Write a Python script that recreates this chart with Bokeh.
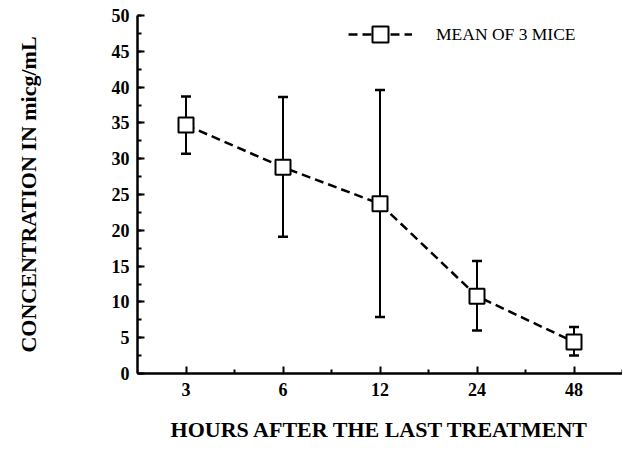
from bokeh.plotting import figure
from bokeh.models import (ColumnDataSource, Range1d, FixedTicker, Whisker, TeeHead,
                          Legend, LegendItem)
from bokeh.embed import file_html
from bokeh.resources import INLINE

# ---- data ----
hours = ["3", "6", "12", "24", "48"]
mean_conc = [34.7, 28.8, 23.7, 10.8, 4.4]
upper_conc = [38.7, 38.6, 39.6, 15.7, 6.5]
lower_conc = [30.7, 19.1, 7.9, 6.0, 2.5]
y_ticks = [0, 5, 10, 15, 20, 25, 30, 35, 40, 45, 50]
y_minor = [2.5 * i for i in range(21)]

xpos = list(range(len(hours)))
x_minor = [i + 0.5 for i in xpos]

src = ColumnDataSource(dict(x=xpos, y=mean_conc, upper=upper_conc, lower=lower_conc))

SERIF = "Liberation Serif"

p = figure(width=622, height=444,
           x_range=Range1d(-0.5, len(hours) - 0.5), y_range=Range1d(0, 50),
           output_backend="svg", toolbar_location=None,
           min_border_left=137, min_border_right=0, min_border_top=15, min_border_bottom=71)

p.grid.visible = False
p.outline_line_color = None
p.background_fill_color = "white"
p.border_fill_color = "white"

whisker = Whisker(source=src, base="x", upper="upper", lower="lower", dimension="height",
                  line_width=2, line_color="black",
                  upper_head=TeeHead(size=10, line_width=2.5, line_color="black"),
                  lower_head=TeeHead(size=10, line_width=2.5, line_color="black"),
                  level="underlay")
p.add_layout(whisker)

line_r = p.line("x", "y", source=src, line_dash="9 5", line_width=2.5, line_color="black")
sq_r = p.scatter("x", "y", source=src, marker="square", size=15,
                 fill_color="white", line_color="black", line_width=2)

legend = Legend(items=[LegendItem(label="MEAN OF 3 MICE", renderers=[line_r, sq_r])],
                location=(211, 319), glyph_width=64, glyph_height=40, label_height=40,
                label_standoff=24, padding=0, margin=0,
                border_line_alpha=0, background_fill_alpha=0,
                label_text_font=SERIF, label_text_font_size="17.5px",
                label_text_color="black")
p.add_layout(legend)

# axes
for ax in (p.xaxis[0], p.yaxis[0]):
    ax.axis_line_width = 2.5
    ax.axis_line_color = "black"
    ax.major_tick_line_width = 2
    ax.minor_tick_line_width = 2
    ax.major_tick_line_color = "black"
    ax.minor_tick_line_color = "black"
    ax.major_tick_in = 7
    ax.major_tick_out = 0
    ax.minor_tick_in = 4
    ax.minor_tick_out = 0
    ax.major_label_text_font = SERIF
    ax.major_label_text_font_style = "bold"
    ax.major_label_text_font_size = "18px"
    ax.major_label_text_color = "black"
    ax.axis_label_text_font = SERIF
    ax.axis_label_text_font_style = "bold"
    ax.axis_label_text_font_size = "22px"
    ax.axis_label_text_color = "black"

p.xaxis.ticker = FixedTicker(ticks=xpos, minor_ticks=x_minor)
p.xaxis.major_label_overrides = dict(zip(xpos, hours))
p.xaxis.major_label_standoff = 9
p.xaxis.axis_label = "HOURS AFTER THE LAST TREATMENT"
p.xaxis.axis_label_standoff = 18

p.yaxis.ticker = FixedTicker(ticks=y_ticks, minor_ticks=y_minor)
p.yaxis.major_label_standoff = 8
p.yaxis.axis_label = "CONCENTRATION IN micg/mL"
p.yaxis.axis_label_standoff = 68

open("out.html", "w").write(file_html(p, INLINE))
